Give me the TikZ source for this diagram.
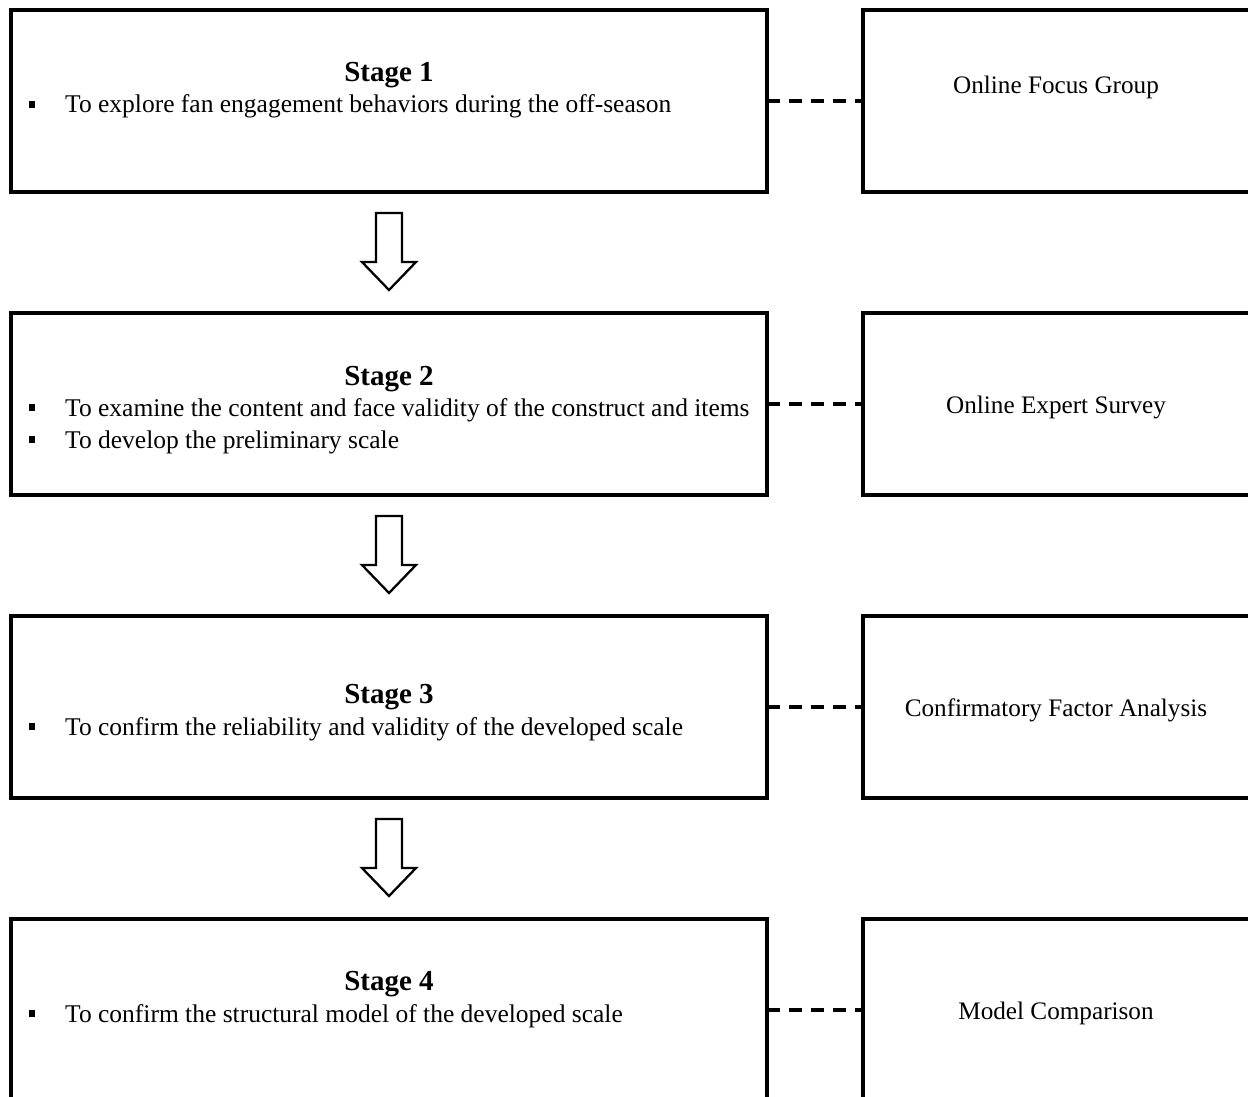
\documentclass[tikz,border=0pt]{standalone}
\usepackage{fontspec}
\setmainfont{Liberation Serif}
\usetikzlibrary{calc}
\tikzset{
  stagebox/.style={draw, line width=3.2pt, inner sep=0pt, outer sep=0pt, minimum width=756pt, minimum height=182pt},
  methodbox/.style={draw, line width=3.2pt, inner sep=0pt, outer sep=0pt, minimum width=389pt, minimum height=182pt},
  dashline/.style={line width=3.4pt, dash pattern=on 13pt off 9pt},
  title/.style={anchor=base, inner sep=0pt, font=\fontsize{29}{34}\selectfont\bfseries},
  itemtext/.style={anchor=base west, inner sep=0pt, font=\fontsize{25.5}{30}\selectfont},
  methodtext/.style={anchor=base, inner sep=0pt, font=\fontsize{25.2}{30}\selectfont},
  bulletsq/.style={fill=black, inner sep=0pt, minimum size=6.5pt},
  blockarrow/.style={draw, line width=2.3pt, fill=white, line join=miter}
}
\begin{document}
\begin{tikzpicture}[x=1pt,y=-1pt]
\useasboundingbox (0,0) rectangle (1248,1097);
\clip (0,0) rectangle (1248,1097);
% boxes
\node[stagebox] (s1) at (389,101) {};
\node[stagebox] (s2) at (389,404) {};
\node[stagebox] (s3) at (389,707) {};
\node[stagebox] (s4) at (389,1010) {};
\node[methodbox] (r1) at (1057.5,101) {};
\node[methodbox] (r2) at (1057.5,404) {};
\node[methodbox] (r3) at (1057.5,707) {};
\node[methodbox] (r4) at (1057.5,1010) {};
% dashed connectors
\draw[dashline] (s1.east) -- (r1.west);
\draw[dashline] (s2.east) -- (r2.west);
\draw[dashline] (s3.east) -- (r3.west);
\draw[dashline] (s4.east) -- (r4.west);
% block arrows
\foreach \b in {s1,s2,s3}{
  \begin{scope}[shift={(\b.south)}]
    \draw[blockarrow] (-13,21) -- (13,21) -- (13,70) -- (27,70) -- (0,98) -- (-27,70) -- (-13,70) -- cycle;
  \end{scope}
}
% stage 1
\node[title] (t1) at (389,82) {Stage 1};
\node[bulletsq] (b11) at (32,104.5) {};
\node[itemtext] (i11) at (65,113) {To explore fan engagement behaviors during the off-season};
% stage 2
\node[title] (t2) at (389,385) {Stage 2};
\node[bulletsq] (b21) at (32,407.5) {};
\node[itemtext] (i21) at (65,416) {To examine the content and face validity of the construct and items};
\node[bulletsq] (b22) at (32,439.5) {};
\node[itemtext] (i22) at (65,448) {To develop the preliminary scale};
% stage 3
\node[title] (t3) at (389,703) {Stage 3};
\node[bulletsq] (b31) at (32,726.5) {};
\node[itemtext] (i31) at (65,735) {To confirm the reliability and validity of the developed scale};
% stage 4
\node[title] (t4) at (389,990) {Stage 4};
\node[bulletsq] (b41) at (32,1013.5) {};
\node[itemtext] (i41) at (65,1022) {To confirm the structural model of the developed scale};
% method texts
\node[methodtext] (m1) at (1056,94) {Online Focus Group};
\node[methodtext] (m2) at (1056,413) {Online Expert Survey};
\node[methodtext] (m3) at (1056,716) {Confirmatory Factor Analysis};
\node[methodtext] (m4) at (1056,1019) {Model Comparison};
\end{tikzpicture}
\end{document}
